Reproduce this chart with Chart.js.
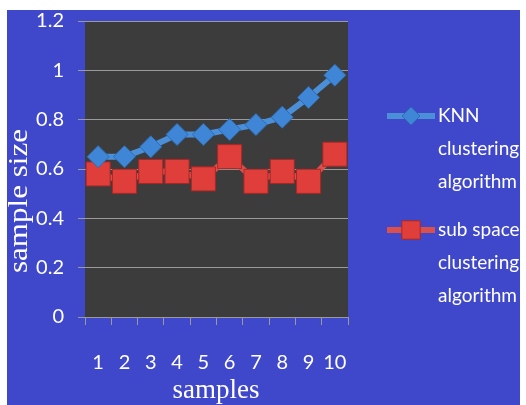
<!DOCTYPE html>
<html>
<head>
<meta charset="utf-8">
<script src="https://cdn.jsdelivr.net/npm/chart.js@4/dist/chart.umd.min.js"></script>
<style>
  html, body { margin: 0; padding: 0; background: #ffffff; }
  #wrap { width: 526px; height: 405px; position: relative; }
</style>
</head>
<body>
<div id="wrap"><canvas id="c" width="526" height="405"></canvas></div>
<script>
// Samples on the x axis
const categories = ['1', '2', '3', '4', '5', '6', '7', '8', '9', '10'];
// Sample size per method
const knnValues = [0.65, 0.65, 0.69, 0.74, 0.74, 0.76, 0.78, 0.81, 0.89, 0.98];
const subspaceValues = [0.58, 0.55, 0.59, 0.59, 0.56, 0.65, 0.55, 0.59, 0.55, 0.66];
// Legend entries (one line of text per array item)
const seriesNames = [
  ['KNN', 'clustering', 'algorithm'],
  ['sub space', 'clustering', 'algorithm']
];
const yTicks = [0, 0.2, 0.4, 0.6, 0.8, 1, 1.2];
const xTitle = 'samples';
const yTitle = 'sample size';

const PANEL = '#3f47cb';
const PLOT_BG = '#3c3c3c';
const GRID = '#9a9a9a';

// Legend marker sizes (smaller than the plotted markers)
const legendRadii = [9, 13];

// Blue panel behind the chart and dark plot area
const backdrop = {
  id: 'backdrop',
  beforeDraw(chart) {
    const ctx = chart.ctx;
    const a = chart.chartArea;
    ctx.save();
    ctx.fillStyle = '#ffffff';
    ctx.fillRect(0, 0, chart.width, chart.height);
    ctx.fillStyle = PANEL;
    ctx.fillRect(7, 10, chart.width - 13, chart.height - 10);
    ctx.fillStyle = PLOT_BG;
    ctx.fillRect(a.left, a.top, a.right - a.left, a.bottom - a.top);
    ctx.restore();
  }
};

// Axis titles and the multi-line legend on the right
const decorations = {
  id: 'decorations',
  afterDraw(chart) {
    const ctx = chart.ctx;
    ctx.save();
    ctx.fillStyle = '#ffffff';
    ctx.textAlign = 'center';
    ctx.textBaseline = 'middle';

    ctx.font = '27px "Liberation Serif", serif';
    ctx.fillText(xTitle, 216, 391);

    ctx.save();
    ctx.translate(20, 201);
    ctx.rotate(-Math.PI / 2);
    ctx.scale(1.15, 1);
    ctx.fillText(yTitle, 0, 0);
    ctx.restore();

    const tops = [116, 230];
    const lineGap = 33;
    chart.data.datasets.forEach((ds, i) => {
      const y = tops[i];
      ctx.strokeStyle = ds.borderColor;
      ctx.lineWidth = 6;
      ctx.beginPath();
      ctx.moveTo(387, y);
      ctx.lineTo(435, y);
      ctx.stroke();
      ctx.lineWidth = 1;
      ctx.fillStyle = ds.pointBackgroundColor;
      ctx.strokeStyle = ds.pointBorderColor;
      Chart.helpers.drawPoint(ctx, {
        pointStyle: ds.pointStyle,
        radius: legendRadii[i],
        rotation: 0,
        borderWidth: 1
      }, 411, y);
      ctx.fillStyle = '#ffffff';
      ctx.textAlign = 'left';
      ctx.font = '19px Lato, sans-serif';
      seriesNames[i].forEach((t, k) => ctx.fillText(t, 438, y + k * lineGap));
    });
    ctx.restore();
  }
};

new Chart(document.getElementById('c'), {
  type: 'line',
  data: {
    labels: categories,
    datasets: [
      {
        label: seriesNames[0].join(' '),
        data: knnValues,
        borderColor: '#4a8fd8',
        borderWidth: 6,
        pointStyle: 'rectRot',
        pointRadius: 11,
        pointBackgroundColor: '#3f87d6',
        pointBorderColor: '#2c6db5',
        pointBorderWidth: 1,
        tension: 0
      },
      {
        label: seriesNames[1].join(' '),
        data: subspaceValues,
        borderColor: '#d9504c',
        borderWidth: 6,
        pointStyle: 'rect',
        pointRadius: 17,
        pointBackgroundColor: '#df3e3b',
        pointBorderColor: '#a82826',
        pointBorderWidth: 1,
        tension: 0
      }
    ]
  },
  options: {
    responsive: false,
    animation: false,
    layout: { padding: { left: 0, right: 178, top: 21, bottom: 0 } },
    plugins: { legend: { display: false }, tooltip: { enabled: false } },
    scales: {
      x: {
        type: 'category',
        offset: true,
        grid: { display: true, offset: true, drawOnChartArea: false, color: GRID, tickLength: 8 },
        border: { display: true, color: GRID, width: 1 },
        ticks: { color: '#ffffff', font: { family: 'Lato', size: 20 }, padding: 26, maxRotation: 0 },
        afterFit(scale) { scale.height = 88; }
      },
      y: {
        min: 0,
        max: 1.2,
        afterBuildTicks(scale) { scale.ticks = yTicks.map(v => ({ value: v })); },
        grid: { color: GRID, tickLength: 7, lineWidth: 1 },
        border: { display: false },
        ticks: { color: '#ffffff', font: { family: 'Lato', size: 20 }, padding: 14, callback: v => String(v) },
        afterFit(scale) {
          scale.width = 85;
          scale.paddingTop = 0;
          scale.paddingBottom = 0;
        }
      }
    }
  },
  plugins: [backdrop, decorations]
});
</script>
</body>
</html>
